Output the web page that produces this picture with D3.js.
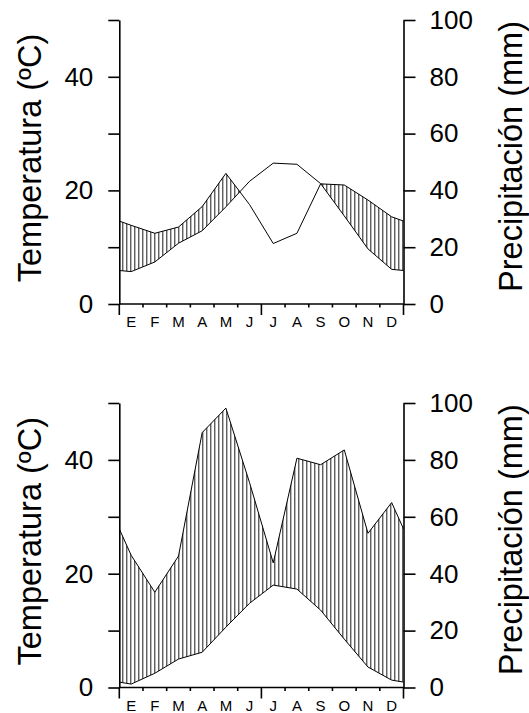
<!DOCTYPE html>
<meta charset="utf-8">

<head>
  <style>
    body {
      margin: 0;
      background: #fff;
    }

    svg text {
      font-family: "Liberation Sans", Arial, sans-serif;
      fill: #000;
    }

    .axis path,
    .axis line,
    .month-tick,
    .base-line {
      stroke: #000;
      stroke-width: 1.6px;
    }

    .curve {
      fill: none;
      stroke: #000;
      stroke-width: 1px;
    }
  </style>
</head>

<body>
  <script src="https://d3js.org/d3.v7.min.js"></script>

  <div id="chart"></div>

  <script>
    // month initials (Spanish)
    var months = ["E", "F", "M", "A", "M", "J", "J", "A", "S", "O", "N", "D"];

    // upper diagram
    var tempTop = [5.7, 7.4, 10.7, 12.9, 17.1, 21.6, 24.8, 24.6, 21.2, 15.5, 9.7, 6.1];
    var precTop = [27.7, 24.9, 27.1, 34.3, 46.0, 35.0, 21.3, 24.9, 42.3, 41.9, 36.6, 30.7];

    // lower diagram
    var tempBottom = [0.6, 2.5, 5.0, 6.2, 10.6, 14.8, 18.0, 17.3, 13.6, 8.5, 3.6, 1.3];
    var precBottom = [46.5, 33.5, 46.2, 89.6, 98.2, 72.0, 43.8, 80.6, 78.3, 83.5, 54.2, 65.0];

    var tempTicks = [0, 10, 20, 30, 40, 50];
    var tempLabels = [0, 20, 40];
    var precTicks = [0, 20, 40, 60, 80, 100];

    var width = 529,
      height = 713;

    var left = 119.3,
      right = 403.5;

    var svg = d3.select('#chart')
      .append('svg')
      .attr('width', width)
      .attr('height', height);

    var defs = svg.append('defs');

    // vertical hatching for the humid period
    defs.append('pattern')
      .attr('id', 'hatch')
      .attr('patternUnits', 'userSpaceOnUse')
      .attr('x', left + 3)
      .attr('y', 0)
      .attr('width', 4)
      .attr('height', 10)
      .append('line')
      .attr('x1', 0.5)
      .attr('x2', 0.5)
      .attr('y1', 0)
      .attr('y2', 10)
      .attr('stroke', '#000')
      .attr('stroke-width', 0.9);

    var x = d3.scaleLinear().domain([0, 12]).range([left, right]);

    // monthly values at mid-month, closed at both edges with the Dec/Jan value
    function cyclic(vals) {
      var edge = (vals[0] + vals[11]) / 2;
      return [[0, edge]]
        .concat(vals.map(function (v, i) { return [i + 0.5, v]; }))
        .concat([[12, edge]]);
    }

    function diagram(temp, prec, top, bottom, id) {
      var yT = d3.scaleLinear().domain([0, 50]).range([bottom, top]);
      var yP = d3.scaleLinear().domain([0, 100]).range([bottom, top]);

      var g = svg.append('g');

      var tData = cyclic(temp),
        pData = cyclic(prec);

      // clip: everything above the temperature curve
      defs.append('clipPath')
        .attr('id', 'above-' + id)
        .append('path')
        .attr('d', d3.area()
          .x(function (d) { return x(d[0]); })
          .y0(top - 5)
          .y1(function (d) { return yT(d[1]); })(tData));

      // hatched area: under precipitation and above temperature
      g.append('path')
        .attr('d', d3.area()
          .x(function (d) { return x(d[0]); })
          .y0(bottom)
          .y1(function (d) { return yP(d[1]); })(pData))
        .attr('fill', 'url(#hatch)')
        .attr('clip-path', 'url(#above-' + id + ')');

      var tLine = d3.line().x(function (d) { return x(d[0]); }).y(function (d) { return yT(d[1]); });
      var pLine = d3.line().x(function (d) { return x(d[0]); }).y(function (d) { return yP(d[1]); });

      g.append('path').attr('class', 'curve').attr('d', tLine(tData));
      g.append('path').attr('class', 'curve').attr('d', pLine(pData));

      // left axis (temperature)
      g.append('g')
        .attr('class', 'axis')
        .attr('transform', 'translate(' + left + ',0)')
        .call(d3.axisLeft(yT)
          .tickValues(tempTicks)
          .tickSize(11)
          .tickSizeOuter(0)
          .tickPadding(15)
          .tickFormat(function (d) { return tempLabels.indexOf(d) >= 0 ? d : ''; }))
        .attr('font-size', 26)
        .attr('font-family', null);

      // right axis (precipitation)
      g.append('g')
        .attr('class', 'axis')
        .attr('transform', 'translate(' + right + ',0)')
        .call(d3.axisRight(yP)
          .tickValues(precTicks)
          .tickSize(12)
          .tickSizeOuter(0)
          .tickPadding(14)
          .tickFormat(d3.format('d')))
        .attr('font-size', 26)
        .attr('font-family', null);

      // month axis
      g.append('line')
        .attr('class', 'base-line')
        .attr('x1', left)
        .attr('x2', right)
        .attr('y1', bottom)
        .attr('y2', bottom);

      g.selectAll('.month-tick')
        .data(d3.range(13))
        .enter()
        .append('line')
        .attr('class', 'month-tick')
        .attr('x1', function (d) { return x(d); })
        .attr('x2', function (d) { return x(d); })
        .attr('y1', bottom)
        .attr('y2', function (d) { return bottom + (d % 6 === 0 ? 11 : 3.5); });

      g.selectAll('.month')
        .data(months)
        .enter()
        .append('text')
        .attr('class', 'month')
        .attr('x', function (d, i) { return x(i + 0.5); })
        .attr('y', bottom + 23)
        .attr('text-anchor', 'middle')
        .attr('font-size', 15)
        .text(function (d) { return d; });

      // axis titles
      var mid = (top + bottom) / 2 - 4;
      g.append('text')
        .attr('transform', 'translate(40.5,' + mid + ') rotate(-90)')
        .attr('text-anchor', 'middle')
        .attr('font-size', 32.5)
        .text('Temperatura (ºC)');

      g.append('text')
        .attr('transform', 'translate(521.6,' + (mid - 1.5) + ') rotate(-90)')
        .attr('text-anchor', 'middle')
        .attr('font-size', 32.5)
        .text('Precipitación (mm)');
    }

    diagram(tempTop, precTop, 20, 304, 'a');
    diagram(tempBottom, precBottom, 403, 687.5, 'b');
  </script>
</body>
